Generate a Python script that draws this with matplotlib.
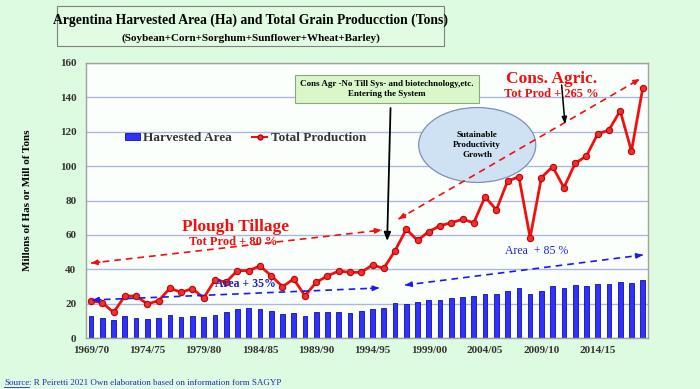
"""
Argentina harvested area and total grain production, 1969/70 - 2018/19.
Bars for harvested area, red line for total production, with the
plough tillage / conservation agriculture annotations on top.
"""
import numpy as np
import matplotlib
matplotlib.use("Agg")
import matplotlib.pyplot as plt
from matplotlib.patches import Ellipse, Rectangle
from matplotlib.lines import Line2D
from matplotlib.patches import Patch

plt.rcParams['font.family'] = ['Liberation Serif', 'DejaVu Serif']

# seasons 1969/70 .. 2018/19
seasons = [f"{y}/{str(y + 1)[-2:]}" for y in range(1969, 2019)]
tick_every = 5

# harvested area, millions of ha
area = [12.8, 11.4, 10.3, 12.6, 11.4, 10.9, 11.8, 13.6, 12.2, 12.8,
        12.4, 13.6, 15.1, 16.9, 17.3, 16.7, 15.9, 14.0, 14.3, 13.0,
        14.9, 15.3, 15.1, 14.5, 15.5, 17.1, 17.3, 20.5, 20.0, 20.7,
        21.9, 22.3, 23.1, 23.7, 24.6, 25.4, 25.4, 27.5, 28.9, 25.8,
        27.5, 30.2, 29.3, 31.0, 30.4, 31.6, 31.6, 32.4, 32.2, 33.7]

# total production, millions of tons
production = [21.7, 20.5, 14.9, 24.4, 24.4, 19.8, 21.7, 28.9, 26.6, 28.7,
              23.3, 33.7, 32.6, 39.2, 39.2, 41.9, 36.3, 29.9, 34.3, 24.6,
              32.4, 36.1, 39.0, 38.2, 38.2, 42.5, 40.5, 50.8, 63.2, 56.8,
              61.9, 65.3, 67.1, 69.0, 67.1, 82.2, 74.5, 91.3, 93.8, 58.4,
              93.3, 99.7, 87.5, 101.6, 105.9, 118.7, 121.0, 132.2, 108.8, 145.2]

bg = '#ddfbe0'
red = '#f01010'
blue = '#1a1aee'
W, H = 700, 389

fig = plt.figure(figsize=(7, 3.89), dpi=100, facecolor=bg)
ax = fig.add_axes([86 / W, 1 - 338 / H, (648 - 86) / W, (338 - 63) / H])
ax.set_facecolor('#fbfffb')

x = np.arange(len(seasons))
ax.bar(x, area, width=0.42, color='#3030ff', edgecolor='#1010a0', linewidth=0.6,
       zorder=2)
ax.plot(x, production, color=red, lw=2, marker='o', ms=4.5,
        mfc='#f03030', mec='#c00000', mew=0.8, zorder=4)

ax.set_xlim(-0.45, len(seasons) - 0.53)
ax.set_ylim(0, 160)
ax.set_yticks(range(0, 161, 20))
ax.set_xticks(x[::tick_every])
ax.set_xticklabels(seasons[::tick_every])
ax.tick_params(length=0, labelsize=8, labelcolor='#333333')
ax.tick_params(axis='y', pad=7)
ax.tick_params(axis='x', pad=6)
for lab in ax.get_xticklabels() + ax.get_yticklabels():
    lab.set_fontweight('bold')
ax.grid(axis='y', color='#aab8e0', lw=1, zorder=0)
for s in ax.spines.values():
    s.set_color('#a0a0a0')
    s.set_linewidth(1)

ax.set_ylabel('Millons of Has or Mill of Tons', fontsize=8, fontweight='bold',
              labelpad=20)

# legend
handles = [Patch(facecolor='#3030ff', edgecolor='#1010a0', lw=0.6),
           Line2D([], [], color=red, lw=1.5, marker='o', ms=3.5, mfc='#f03030',
                  mec='#c00000')]
leg = fig.legend(handles, ['Harvested Area', 'Total Production'], ncol=2,
                 loc='center left', bbox_to_anchor=(125 / W, 1 - 138 / H),
                 frameon=False, borderpad=0, borderaxespad=0, handlelength=1.15,
                 handleheight=0.45, handletextpad=0.25, columnspacing=1.5,
                 prop={'size': 9.5, 'weight': 'bold'})
for t in leg.get_texts():
    t.set_color('#333333')


def dashed_arrow(p0, p1, color, lw=1.2):
    ax.plot([p0[0], p1[0]], [p0[1], p1[1]], color=color, lw=lw,
            ls=(0, (4, 3)), zorder=5)
    for a, b in ((p0, p1), (p1, p0)):
        tip = a
        back = (a[0] + 0.03 * (b[0] - a[0]), a[1] + 0.03 * (b[1] - a[1]))
        ax.annotate('', xy=tip, xytext=back,
                    arrowprops=dict(arrowstyle='-|>,head_length=0.35,head_width=0.15',
                                    color=color, lw=lw, shrinkA=0, shrinkB=0),
                    zorder=6)


dashed_arrow((0.0, 43.6), (25.8, 62.8), red)
dashed_arrow((27.3, 69.2), (48.75, 150.7), red)
dashed_arrow((0.1, 22.1), (25.6, 29.1), blue)
dashed_arrow((27.9, 30.8), (49.0, 48.3), blue)

# black arrows
ax.annotate('', xy=(26.3, 56.4), xytext=(26.6, 133.8),
            arrowprops=dict(arrowstyle='-|>,head_length=0.5,head_width=0.2',
                            color='black', lw=1.3, shrinkA=0, shrinkB=0), zorder=6)
ax.annotate('', xy=(42.1, 124.5), xytext=(41.8, 147.2),
            arrowprops=dict(arrowstyle='-|>,head_length=0.4,head_width=0.15',
                            color='black', lw=1.1, shrinkA=0, shrinkB=0), zorder=6)

# annotation texts
ax.text(12.8, 64.6, 'Plough Tillage', color=red, fontsize=12.5, fontweight='bold',
        ha='center', va='center', zorder=7)
ax.text(12.6, 55.8, 'Tot Prod + 80 %', color=red, fontsize=9, fontweight='bold',
        ha='center', va='center', zorder=4)
ax.text(13.7, 31.4, 'Area + 35%', color='#2020c0', fontsize=8.5, fontweight='bold',
        ha='center', va='center', zorder=7)
ax.text(39.6, 50.6, 'Area  + 85 %', color='#2020d0', fontsize=8.5,
        ha='center', va='center', zorder=7)
ax.text(40.9, 150.7, 'Cons. Agric.', color=red, fontsize=12.5, fontweight='bold',
        ha='center', va='center', zorder=7)
ax.text(40.9, 141.9, 'Tot Prod + 265 %', color=red, fontsize=9, fontweight='bold',
        ha='center', va='center', zorder=4)

ax.text(26.3, 144.8, 'Cons Agr -No Till Sys- and biotechnology,etc.\nEntering the System',
        fontsize=6.5, fontweight='bold', ha='center', va='center', linespacing=1.3,
        zorder=7,
        bbox=dict(boxstyle='square,pad=0.55', facecolor='#d9f7c8',
                  edgecolor='#8aa880', lw=0.8))

ax.add_patch(Ellipse((34.3, 112.3), 10.4, 43.6, facecolor='#cfe2f3',
                     edgecolor='#7f8fb5', lw=0.9, zorder=3))
ax.text(34.3, 112.3, 'Sutainable\nProductivity\nGrowth', fontsize=6.5,
        fontweight='bold', ha='center', va='center', linespacing=1.3, zorder=4)

# title box
fig.patches.append(Rectangle((57 / W, 1 - 46 / H), (444 - 57) / W, 40 / H,
                             transform=fig.transFigure, facecolor='#e2fce4',
                             edgecolor='#808080', lw=0.8))
fig.text(250.5 / W, 1 - 20 / H,
         'Argentina Harvested Area (Ha) and Total Grain Producction (Tons)',
         fontsize=9.8, fontweight='bold', ha='center', va='center')
fig.text(251 / W, 1 - 38 / H, '(Soybean+Corn+Sorghum+Sunflower+Wheat+Barley)',
         fontsize=8, fontweight='bold', ha='center', va='center')

# source line with underlined "Source"
src = fig.text(4 / W, 1 - 383 / H, 'Source', fontsize=6.5, color='#2828b8',
               ha='left', va='center')
fig.canvas.draw()
bb = src.get_window_extent()
fig.add_artist(Line2D([bb.x0 / W, bb.x1 / W], [(bb.y0 + 0.5) / H] * 2,
                      transform=fig.transFigure, color='#2828b8', lw=0.6))
fig.text(bb.x1 / W, 1 - 383 / H,
         ': R Peiretti 2021 Own elaboration based on information form SAGYP',
         fontsize=6.5, color='#2828b8', ha='left', va='center')

fig.savefig('out.png', dpi=100, facecolor=bg)
